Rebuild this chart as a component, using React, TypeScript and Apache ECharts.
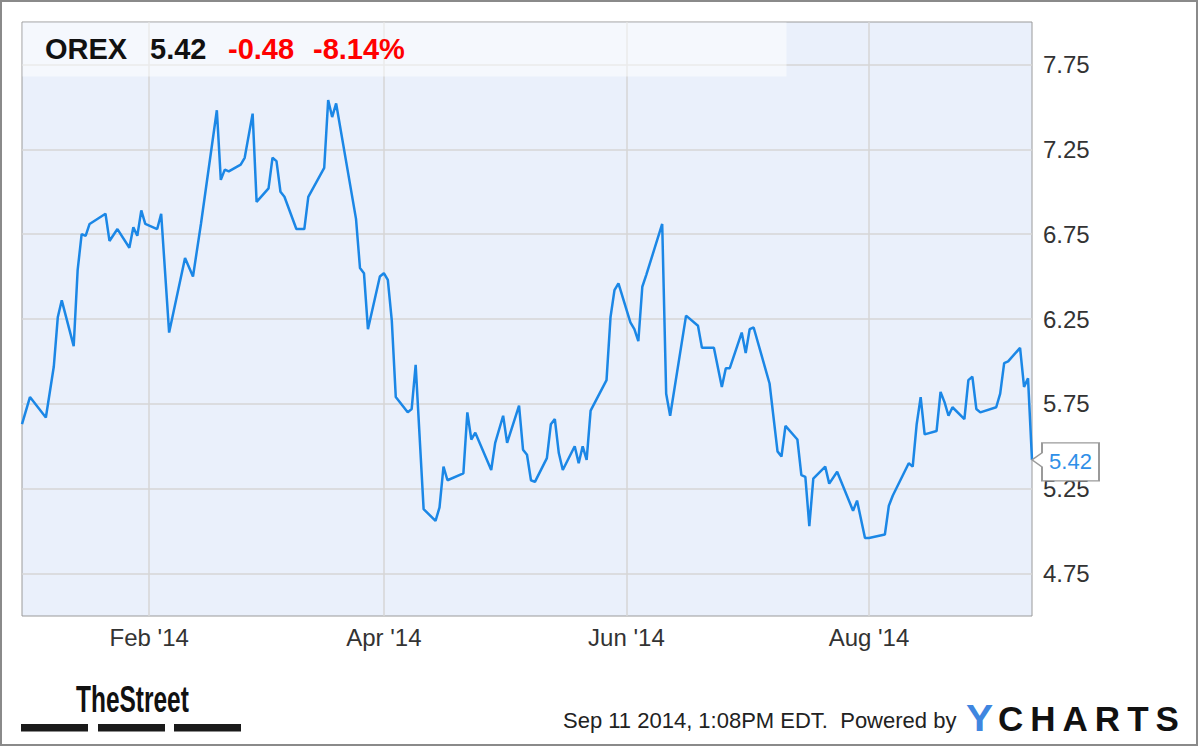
import React, { useEffect, useRef } from "react";
import * as echarts from "echarts";

const ticker = "OREX";
const timestampText = "Sep 11 2014, 1:08PM EDT.";
const poweredText = "Powered by";
const axisStart = "2013-12-31";
const axisEnd = "2014-09-11";
const xTickDates = ["2014-02-01", "2014-04-01", "2014-06-01", "2014-08-01"];
const yTicks = [4.75, 5.25, 5.75, 6.25, 6.75, 7.25, 7.75];
const yMin = 4.5;
const yMax = 8.0;
const monthNames = ["Jan", "Feb", "Mar", "Apr", "May", "Jun", "Jul", "Aug", "Sep", "Oct", "Nov", "Dec"];

const dates = [
  "2013-12-31", "2014-01-02", "2014-01-06", "2014-01-08", "2014-01-09", "2014-01-10",
  "2014-01-13", "2014-01-14", "2014-01-15", "2014-01-16", "2014-01-17", "2014-01-21",
  "2014-01-22", "2014-01-24", "2014-01-27", "2014-01-28", "2014-01-29", "2014-01-30",
  "2014-01-31", "2014-02-03", "2014-02-04", "2014-02-06", "2014-02-10", "2014-02-12",
  "2014-02-14", "2014-02-18", "2014-02-19", "2014-02-20", "2014-02-21", "2014-02-24",
  "2014-02-25", "2014-02-27", "2014-02-28", "2014-03-03", "2014-03-04", "2014-03-05",
  "2014-03-06", "2014-03-07", "2014-03-10", "2014-03-12", "2014-03-13", "2014-03-17",
  "2014-03-18", "2014-03-19", "2014-03-20", "2014-03-25", "2014-03-26", "2014-03-27",
  "2014-03-28", "2014-03-31", "2014-04-01", "2014-04-02", "2014-04-03", "2014-04-04",
  "2014-04-07", "2014-04-08", "2014-04-09", "2014-04-11", "2014-04-14", "2014-04-15",
  "2014-04-16", "2014-04-17", "2014-04-21", "2014-04-22", "2014-04-23", "2014-04-24",
  "2014-04-28", "2014-04-29", "2014-05-01", "2014-05-02", "2014-05-05", "2014-05-06",
  "2014-05-07", "2014-05-08", "2014-05-09", "2014-05-12", "2014-05-13", "2014-05-14",
  "2014-05-15", "2014-05-16", "2014-05-19", "2014-05-20", "2014-05-21", "2014-05-22",
  "2014-05-23", "2014-05-27", "2014-05-28", "2014-05-29", "2014-05-30", "2014-06-02",
  "2014-06-03", "2014-06-04", "2014-06-05", "2014-06-06", "2014-06-10", "2014-06-11",
  "2014-06-12", "2014-06-16", "2014-06-19", "2014-06-20", "2014-06-23", "2014-06-25",
  "2014-06-26", "2014-06-27", "2014-06-30", "2014-07-01", "2014-07-02", "2014-07-03",
  "2014-07-07", "2014-07-09", "2014-07-10", "2014-07-11", "2014-07-14", "2014-07-15",
  "2014-07-16", "2014-07-17", "2014-07-18", "2014-07-21", "2014-07-22", "2014-07-24",
  "2014-07-28", "2014-07-29", "2014-07-31", "2014-08-01", "2014-08-05", "2014-08-06",
  "2014-08-07", "2014-08-11", "2014-08-12", "2014-08-13", "2014-08-14", "2014-08-15",
  "2014-08-18", "2014-08-19", "2014-08-20", "2014-08-21", "2014-08-22", "2014-08-25",
  "2014-08-26", "2014-08-27", "2014-08-28", "2014-08-29", "2014-09-02", "2014-09-03",
  "2014-09-04", "2014-09-05", "2014-09-08", "2014-09-09", "2014-09-10", "2014-09-11",
];

const prices = [
  5.63, 5.79, 5.67, 5.97, 6.26, 6.36,
  6.09, 6.54, 6.75, 6.74, 6.81, 6.87,
  6.71, 6.78, 6.67, 6.79, 6.74, 6.89,
  6.81, 6.78, 6.87, 6.17, 6.61, 6.50,
  6.81, 7.48, 7.07, 7.13, 7.12, 7.16,
  7.20, 7.46, 6.94, 7.02, 7.20, 7.18,
  7.00, 6.97, 6.78, 6.78, 6.97, 7.14,
  7.54, 7.44, 7.52, 6.84, 6.55, 6.52,
  6.19, 6.50, 6.52, 6.48, 6.24, 5.79,
  5.70, 5.72, 5.98, 5.13, 5.06, 5.14,
  5.38, 5.30, 5.34, 5.70, 5.54, 5.58,
  5.36, 5.52, 5.68, 5.52, 5.74, 5.48,
  5.45, 5.30, 5.29, 5.43, 5.63, 5.66,
  5.46, 5.36, 5.50, 5.40, 5.50, 5.42,
  5.71, 5.89, 6.26, 6.42, 6.46, 6.23,
  6.19, 6.12, 6.44, 6.51, 6.81, 5.81,
  5.68, 6.27, 6.21, 6.08, 6.08, 5.85,
  5.96, 5.96, 6.17, 6.05, 6.19, 6.20,
  5.87, 5.47, 5.44, 5.62, 5.54, 5.33,
  5.32, 5.03, 5.31, 5.38, 5.28, 5.35,
  5.12, 5.18, 4.96, 4.96, 4.98, 5.15,
  5.21, 5.40, 5.38, 5.63, 5.79, 5.57,
  5.59, 5.82, 5.76, 5.68, 5.73, 5.66,
  5.89, 5.91, 5.72, 5.70, 5.73, 5.81,
  5.99, 6.00, 6.08, 5.85, 5.90, 5.42,
];

const FONT = "'Liberation Sans', Arial, Helvetica, sans-serif";
const LINE_BLUE = "#1b87e6";

function toTs(s: string): number {
  const [y, m, d] = s.split("-").map(Number);
  return new Date(y, m - 1, d).getTime();
}

export default function App() {
  const ref = useRef<HTMLDivElement>(null);

  useEffect(() => {
    document.body.style.margin = "0";
    const chart = echarts.init(ref.current!, undefined, { renderer: "svg" });

    const seriesData = dates.map((d, i) => [toTs(d), prices[i]]);
    const last = prices[prices.length - 1];
    const prev = prices[prices.length - 2];
    const change = last - prev;
    const pct = (change / prev) * 100;
    const xTickTs = xTickDates.map(toTs);

    const option: any = {
      animation: false,
      backgroundColor: "#ffffff",
      grid: {
        left: 22,
        top: 22,
        right: 168,
        bottom: 131,
        show: true,
        backgroundColor: "#eaf0fb",
        borderColor: "#9a9a9a",
        borderWidth: 1,
      },
      xAxis: {
        type: "value",
        min: toTs(axisStart),
        max: toTs(axisEnd),
        axisLine: { show: false },
        axisTick: { show: false, customValues: xTickTs },
        axisLabel: {
          customValues: xTickTs,
          formatter: (v: number) => {
            const d = new Date(v);
            return monthNames[d.getMonth()] + " '" + String(d.getFullYear()).slice(2);
          },
          fontSize: 24,
          fontFamily: FONT,
          color: "#333333",
          margin: 9,
        },
        splitLine: { show: true, lineStyle: { color: "#d6d6d6", width: 1.5 } },
      },
      yAxis: {
        type: "value",
        position: "right",
        min: yMin,
        max: yMax,
        axisLine: { show: false },
        axisTick: { show: false, customValues: yTicks },
        axisLabel: {
          customValues: yTicks,
          formatter: (v: number) => v.toFixed(2),
          fontSize: 24,
          fontFamily: FONT,
          color: "#333333",
          margin: 11,
        },
        splitLine: { show: true, lineStyle: { color: "#d6d6d6", width: 1.5 } },
      },
      series: [
        {
          type: "line",
          data: seriesData,
          symbol: "none",
          showSymbol: false,
          lineStyle: { color: LINE_BLUE, width: 2.5 },
          itemStyle: { color: LINE_BLUE },
          markPoint: {
            symbol: "path://M0,17L10,10L10,0L67,0L67,38L10,38L10,24Z",
            symbolSize: [67, 38],
            symbolKeepAspect: false,
            symbolOffset: [33.5, 2],
            itemStyle: { color: "#ffffff", borderColor: "#9a9a9a", borderWidth: 1.5 },
            label: {
              show: true,
              position: "inside",
              offset: [5, 0],
              formatter: (p: any) => Number(p.value).toFixed(2),
              color: "#2f8fe8",
              fontSize: 22,
              fontFamily: FONT,
            },
            data: [{ coord: [toTs(dates[dates.length - 1]), last], value: last }],
          },
        },
      ],
      graphic: [
        {
          type: "rect",
          z: 50,
          shape: { x: 22.5, y: 22.5, width: 764, height: 54 },
          style: { fill: "rgba(255,255,255,0.5)" },
        },
        {
          type: "text",
          z: 60,
          x: 45,
          y: 49,
          style: { text: ticker, font: `bold 29px ${FONT}`, fill: "#111111", verticalAlign: "middle" },
        },
        {
          type: "text",
          z: 60,
          x: 150,
          y: 49,
          style: { text: last.toFixed(2), font: `bold 29px ${FONT}`, fill: "#111111", verticalAlign: "middle" },
        },
        {
          type: "text",
          z: 60,
          x: 228,
          y: 49,
          style: { text: change.toFixed(2), font: `bold 29px ${FONT}`, fill: "#ff0000", verticalAlign: "middle" },
        },
        {
          type: "text",
          z: 60,
          x: 313,
          y: 49,
          style: { text: pct.toFixed(2) + "%", font: `bold 29px ${FONT}`, fill: "#ff0000", verticalAlign: "middle" },
        },
        {
          type: "rect",
          z: 60,
          shape: { x: 1, y: 1, width: 1196, height: 744 },
          style: { fill: "none", stroke: "#8a8a8a", lineWidth: 2 },
        },
        {
          type: "text",
          z: 60,
          x: 76,
          y: 700,
          scaleX: 0.68,
          style: { text: "TheStreet", font: `bold 36px ${FONT}`, fill: "#111111", verticalAlign: "middle" },
        },
        { type: "rect", z: 60, shape: { x: 21, y: 724, width: 67, height: 7.5 }, style: { fill: "#1a1a1a" } },
        { type: "rect", z: 60, shape: { x: 98, y: 724, width: 67, height: 7.5 }, style: { fill: "#1a1a1a" } },
        { type: "rect", z: 60, shape: { x: 174, y: 724, width: 67, height: 7.5 }, style: { fill: "#1a1a1a" } },
        {
          type: "text",
          z: 60,
          x: 563,
          y: 720,
          style: { text: timestampText + "  " + poweredText, font: `22px ${FONT}`, fill: "#222222", verticalAlign: "middle" },
        },
        {
          type: "text",
          z: 60,
          x: 966,
          y: 718,
          scaleX: 1.1,
          style: { text: "Y", font: `bold 37px ${FONT}`, fill: "#3f86e0", verticalAlign: "middle" },
        },
        {
          type: "text",
          z: 60,
          x: 998,
          y: 718,
          style: {
            text: "C\u2009H\u2009A\u2009R\u2009T\u2009S",
            font: `bold 35px ${FONT}`,
            fill: "#111111",
            verticalAlign: "middle",
          },
        },
      ],
    };

    chart.setOption(option);
    return () => chart.dispose();
  }, []);

  return (
    <div
      ref={ref}
      style={{ width: 1200, height: 747, position: "absolute", left: 0, top: 0, background: "#ffffff" }}
    />
  );
}
